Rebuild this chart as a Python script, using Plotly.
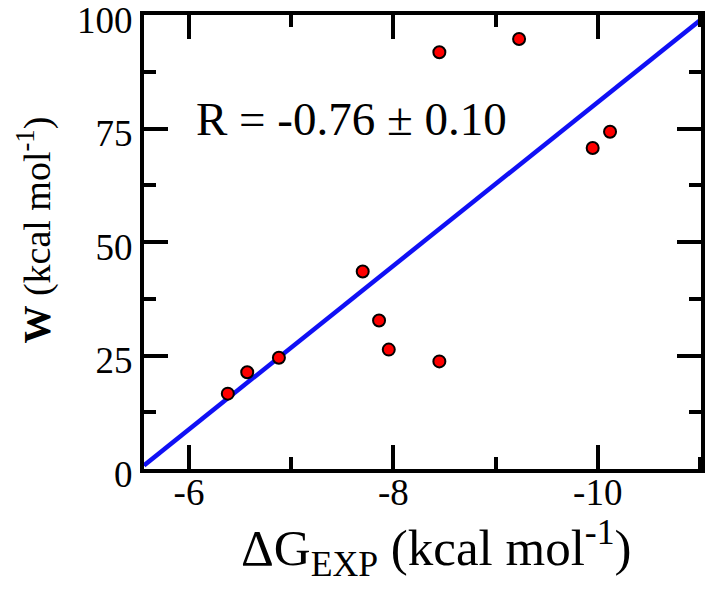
import plotly.graph_objects as go

# Data
dG_exp = [-6.38, -6.57, -6.88, -7.70, -7.86, -7.955, -8.45, -8.45, -9.23, -9.95, -10.12]
W_vals = [16.6, 21.3, 24.5, 43.5, 32.7, 26.3, 23.7, 91.8, 94.7, 70.7, 74.3]

fit_x = [-5.56, -11.01]
fit_y = [0.8, 99.0]

x_range = [-5.56, -11.01]
y_range = [0, 100]
x_ticks = [-6, -8, -10]
x_tick_labels = ["-6", "-8", "-10"]
x_minor = [-7, -9, -11]
y_ticks = [0, 25, 50, 75, 100]
y_tick_labels = ["0", "25", "50", "75", "100"]
y_minor = [12.5, 37.5, 62.5, 87.5]

FONT = "Liberation Serif"

fig = go.Figure()
fig.add_trace(go.Scatter(x=fit_x, y=fit_y, mode="lines",
                         line=dict(color="#1010f5", width=4.5), showlegend=False))
fig.add_trace(go.Scatter(x=dG_exp, y=W_vals, mode="markers",
                         marker=dict(size=12, color="#ff0000", line=dict(color="black", width=2)),
                         showlegend=False))
# empty trace so the minor-tick overlay axes get drawn
fig.add_trace(go.Scatter(x=[None], y=[None], xaxis="x2", yaxis="y2", mode="markers",
                         showlegend=False, hoverinfo="skip"))

base = dict(showline=True, linewidth=4, linecolor="black", mirror="allticks",
            ticks="inside", tickwidth=4, tickcolor="black",
            showgrid=False, zeroline=False, automargin=False,
            ticklabeloverflow="allow",
            tickfont=dict(family=FONT, size=37, color="black"))

fig.update_layout(
    xaxis=dict(range=x_range, tickmode="array", tickvals=x_ticks, ticktext=x_tick_labels,
               ticklen=24, ticklabelstandoff=-12, **base),
    yaxis=dict(range=y_range, tickmode="array", tickvals=y_ticks, ticktext=y_tick_labels,
               ticklen=24, ticklabelshift=5, **base),
    xaxis2=dict(range=x_range, overlaying="x", anchor="y2", side="bottom", tickmode="array",
                tickvals=x_minor, ticklen=12, showticklabels=False, **base),
    yaxis2=dict(range=y_range, overlaying="y", anchor="x2", side="left", tickmode="array",
                tickvals=y_minor, ticklen=12, showticklabels=False, **base),
)

fig.add_annotation(text="R = -0.76 ± 0.10", xref="paper", yref="paper", x=0.373, y=0.77,
                   showarrow=False, xanchor="center", yanchor="middle",
                   font=dict(family=FONT, size=47, color="black"))
fig.add_annotation(text="ΔG<sub>EXP</sub> (kcal mol<sup>-1</sup>)", xref="paper", yref="paper",
                   x=0.5256, y=-0.175, showarrow=False, xanchor="center", yanchor="middle",
                   font=dict(family=FONT, size=51, color="black"))
fig.add_annotation(text="<b>W</b> (kcal mol<sup>-1</sup>)", xref="paper", yref="paper",
                   x=-0.196, y=0.527, showarrow=False, xanchor="center", yanchor="middle",
                   textangle=-90, font=dict(family=FONT, size=38, color="black"))

fig.update_layout(width=711, height=595, margin=dict(l=143.5, r=10, t=15, b=125.5, autoexpand=False),
                  plot_bgcolor="white", paper_bgcolor="white")

fig.write_html("out.html", config={"displayModeBar": False},
               post_script="document.body.style.margin='0px';")
